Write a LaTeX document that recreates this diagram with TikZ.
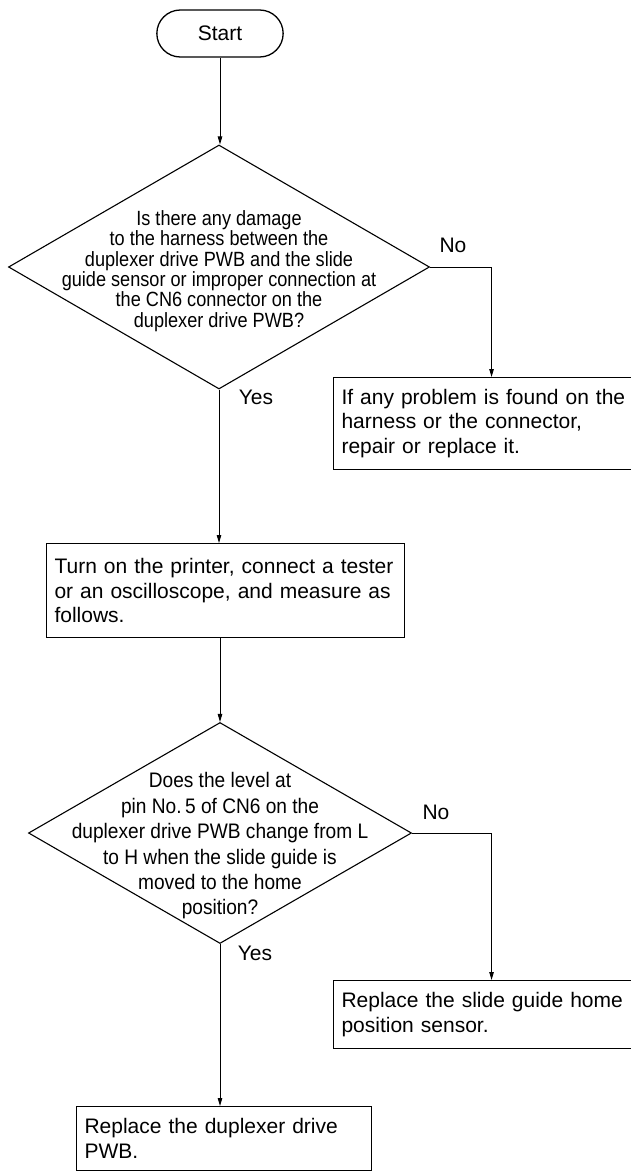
\documentclass[tikz,border=0pt]{standalone}
\usepackage{fontspec}
\setmainfont{Liberation Sans}
\newfontfamily\narrowsf[FakeStretch=0.88]{Liberation Sans}
\newfontfamily\semisf[FakeStretch=0.91]{Liberation Sans}
\usetikzlibrary{shapes.geometric,shapes.misc,arrows.meta}

\tikzset{
  startbox/.style={draw, line width=1.3pt, rounded rectangle,
    minimum width=133pt, minimum height=47pt},
  decision/.style={draw, line width=1.1pt, diamond, inner sep=0pt},
  qtext/.style={align=center},
  actbox/.style={draw, line width=1.1pt, align=left, anchor=north west,
    inner xsep=8pt, inner ysep=0pt},
  lbl/.style={font=\fontsize{21}{24}\selectfont},
  flow/.style={-{Triangle[length=8pt,width=4.5pt]}, line width=0.9pt}
}

\begin{document}
\begin{tikzpicture}[x=1pt,y=-1pt,font=\fontsize{21}{24.5}\selectfont]
\useasboundingbox (0,0) rectangle (631,1172);

% Start
\node[startbox] (start) at (220,33.5) {Start};

% first check
\node[decision, minimum width=421pt, minimum height=244pt] (q1) at (219,267) {};
\node[qtext, font=\narrowsf\fontsize{20.6}{20.4}\selectfont] (q1text) at (219,271)
  {Is there any damage\\
  to the harness between the\\
  duplexer drive PWB and the slide\\
  guide sensor or improper connection at\\
  the CN6 connector on the\\
  duplexer drive PWB?};
\node[lbl] (no1) at (453,245) {No};
\node[lbl] (yes1) at (256,397) {Yes};

\node[actbox, text width=300pt, minimum height=92pt] (fix1) at (333,377)
  {If any problem is found on the\\ harness or the connector,\\ repair or replace it.};

% measure
\node[actbox, text width=342pt, minimum height=94pt] (meas) at (46,543)
  {Turn on the printer, connect a tester\\ or an oscilloscope, and measure as\\ follows.};

% second check
\node[decision, minimum width=383pt, minimum height=221pt] (q2) at (220,833) {};
\node[qtext, font=\semisf\fontsize{21}{25.4}\selectfont] (q2text) at (220,846)
  {Does the level at\\
  pin No.\,5 of CN6 on the\\
  duplexer drive PWB change from L\\
  to H when the slide guide is\\
  moved to the home\\
  position?};
\node[lbl] (no2) at (436,812) {No};
\node[lbl] (yes2) at (255,953) {Yes};

\node[actbox, text width=300pt, minimum height=68pt] (fix2) at (333,980)
  {Replace the slide guide home\\ position sensor.};
\node[actbox, text width=279pt, minimum height=64pt] (fix3) at (76,1106)
  {Replace the duplexer drive\\ PWB.};

% connectors
\draw[flow] (start.south) -- (start.south |- q1.north);
\draw[flow] (q1.east) -| (fix1.north);
\draw[flow] (q1.south) -- (q1.south |- meas.north);
\draw[flow] (q2.north |- meas.south) -- (q2.north);
\draw[flow] (q2.east) -| (fix2.north);
\draw[flow] (q2.south) -- (q2.south |- fix3.north);

\end{tikzpicture}
\end{document}
